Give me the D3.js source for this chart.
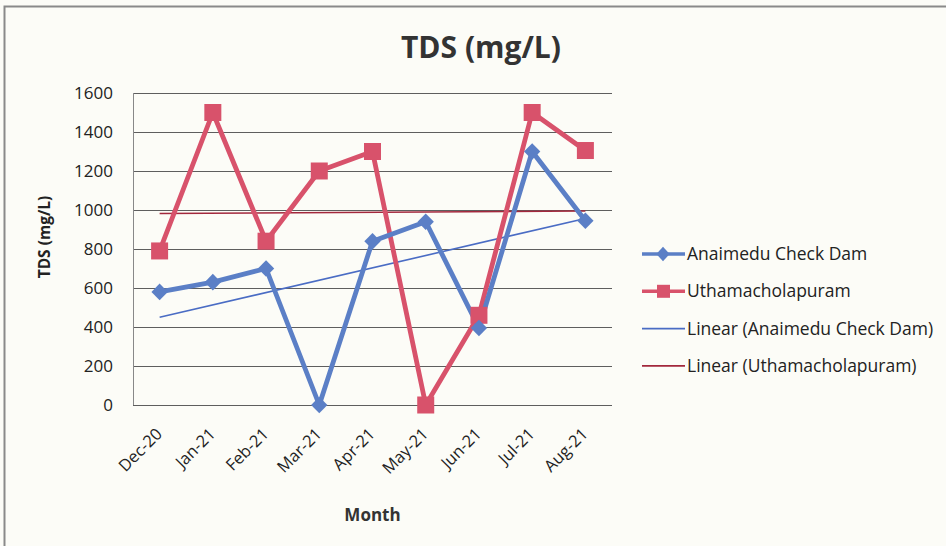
<!DOCTYPE html>
<html>
<head>
<meta charset="utf-8">
<script src="https://cdn.jsdelivr.net/npm/d3@7"></script>
<style>
  body { margin: 0; background: #fcfcf7; }
  svg { font-family: "Open Sans", "Noto Sans", sans-serif; }
</style>
</head>
<body>
<div id="container"></div>
<script>
// data
var months = ["Dec-20", "Jan-21", "Feb-21", "Mar-21", "Apr-21", "May-21", "Jun-21", "Jul-21", "Aug-21"];
var anaimedu = [580, 630, 700, 0, 840, 940, 395, 1300, 945];
var uthama = [790, 1500, 840, 1200, 1300, 0, 460, 1500, 1305];
var yTicks = [0, 200, 400, 600, 800, 1000, 1200, 1400, 1600];
var seriesNames = ["Anaimedu Check Dam", "Uthamacholapuram"];

var blue = "#5b7fc6", red = "#d8526b", blueTrend = "#4a6cc4", redTrend = "#a3283d";
var font = "'Open Sans', 'Noto Sans', sans-serif";

var W = 946, H = 546;
var margin = {top: 93, right: 334, bottom: 141, left: 133},
	width = W - margin.left - margin.right,
	height = H - margin.top - margin.bottom;

var svg = d3.select("#container").append("svg")
	.attr("width", W)
	.attr("height", H);

// chart frame
svg.append("rect")
	.attr("x", 4.5).attr("y", 6.5)
	.attr("width", W + 10).attr("height", H + 10)
	.attr("fill", "#fcfcf7")
	.attr("stroke", "#8a8a8a")
	.attr("stroke-width", 2);

var g = svg.append("g")
	.attr("transform", "translate(" + margin.left + "," + margin.top + ")");

// scales
var x = d3.scalePoint().domain(months).range([0, width]).padding(0.5);
var y = d3.scaleLinear().domain([0, 1600]).range([height, 0]);

// gridlines
g.selectAll(".grid")
	.data(yTicks)
	.enter().append("line")
	.attr("x1", 0).attr("x2", width)
	.attr("y1", function(d) { return Math.round(y(d)) + 0.5; })
	.attr("y2", function(d) { return Math.round(y(d)) + 0.5; })
	.attr("stroke", "#5e5e5e")
	.attr("stroke-width", 1.1);

g.append("line")
	.attr("x1", 0.5).attr("x2", 0.5)
	.attr("y1", 0).attr("y2", height)
	.attr("stroke", "#888").attr("stroke-width", 1);

// y axis
var yAxis = g.append("g")
	.call(d3.axisLeft(y).tickValues(yTicks).tickFormat(d3.format("d")).tickSize(0).tickPadding(20))
	.attr("font-family", font);
yAxis.select(".domain").remove();
yAxis.selectAll("text")
	.style("font-size", "17px")
	.attr("fill", "#222");

// x axis labels
var xAxis = g.append("g")
	.attr("transform", "translate(0," + height + ")")
	.call(d3.axisBottom(x).tickSize(0).tickPadding(0))
	.attr("font-family", font);
xAxis.select(".domain").remove();
xAxis.selectAll("text")
	.style("font-size", "16.5px")
	.attr("fill", "#222")
	.style("text-anchor", "end")
	.attr("dy", 0)
	.attr("transform", "translate(3,30) rotate(-45)");

// titles
svg.append("text")
	.attr("x", 481).attr("y", 58)
	.attr("text-anchor", "middle")
	.style("font-size", "30px").style("font-weight", "bold")
	.attr("fill", "#333")
	.text("TDS (mg/L)");

svg.append("text")
	.attr("transform", "translate(50,237) rotate(-90)")
	.attr("text-anchor", "middle")
	.style("font-size", "15.5px").style("font-weight", "bold")
	.attr("fill", "#222")
	.text("TDS (mg/L)");

svg.append("text")
	.attr("x", margin.left + width / 2).attr("y", 521)
	.attr("text-anchor", "middle")
	.style("font-size", "17px").style("font-weight", "bold")
	.attr("fill", "#333")
	.text("Month");

// linear trend (least squares, like the spreadsheet trendline)
function trend(vals) {
	var n = vals.length, mx = (n - 1) / 2, my = d3.mean(vals), sxy = 0, sxx = 0;
	vals.forEach(function(v, i) { sxy += (i - mx) * (v - my); sxx += (i - mx) * (i - mx); });
	var b = sxy / sxx, a = my - b * mx;
	return [a, a + b * (n - 1)];
}

var line = d3.line()
	.x(function(d, i) { return x(months[i]); })
	.y(function(d) { return y(d); });

[[anaimedu, blueTrend], [uthama, redTrend]].forEach(function(s) {
	var t = trend(s[0]);
	g.append("line")
		.attr("x1", x(months[0])).attr("x2", x(months[months.length - 1]))
		.attr("y1", y(t[0])).attr("y2", y(t[1]))
		.attr("stroke", s[1]).attr("stroke-width", 1.6);
});

// series lines
g.append("path").datum(uthama)
	.attr("d", line).attr("fill", "none")
	.attr("stroke", red).attr("stroke-width", 4.8).attr("stroke-linejoin", "round");
g.append("path").datum(anaimedu)
	.attr("d", line).attr("fill", "none")
	.attr("stroke", blue).attr("stroke-width", 4.8).attr("stroke-linejoin", "round");

// markers
g.selectAll(".sq").data(uthama).enter().append("rect")
	.attr("x", function(d, i) { return x(months[i]) - 8.5; })
	.attr("y", function(d) { return y(d) - 8.5; })
	.attr("width", 17).attr("height", 17)
	.attr("fill", red);

var diamond = d3.symbol().type(d3.symbolDiamond).size(80);
g.selectAll(".dm").data(anaimedu).enter().append("path")
	.attr("d", diamond)
	.attr("transform", function(d, i) { return "translate(" + x(months[i]) + "," + y(d) + ") scale(1.7,1)"; })
	.attr("fill", blue);

// legend
var legendItems = [
	{name: seriesNames[0], color: blue, w: 3.5, mark: "diamond"},
	{name: seriesNames[1], color: red, w: 3.5, mark: "square"},
	{name: "Linear (" + seriesNames[0] + ")", color: blueTrend, w: 1.6},
	{name: "Linear (" + seriesNames[1] + ")", color: redTrend, w: 1.6}
];
var legend = svg.append("g").attr("transform", "translate(642,254)");
legendItems.forEach(function(d, i) {
	var row = legend.append("g").attr("transform", "translate(0," + (i * 37.3) + ")");
	row.append("line").attr("x1", 0).attr("x2", 43).attr("y1", 0).attr("y2", 0)
		.attr("stroke", d.color).attr("stroke-width", d.w);
	if (d.mark === "diamond") {
		row.append("path").attr("d", d3.symbol().type(d3.symbolDiamond).size(60))
			.attr("transform", "translate(21,0) scale(1.6,1)").attr("fill", d.color);
	} else if (d.mark === "square") {
		row.append("rect").attr("x", 15).attr("y", -6.5).attr("width", 13).attr("height", 13).attr("fill", d.color);
	}
	row.append("text").attr("x", 45).attr("y", 0).attr("dy", "0.35em")
		.style("font-size", "17.5px").attr("fill", "#222")
		.text(d.name);
});
</script>
</body>
</html>
